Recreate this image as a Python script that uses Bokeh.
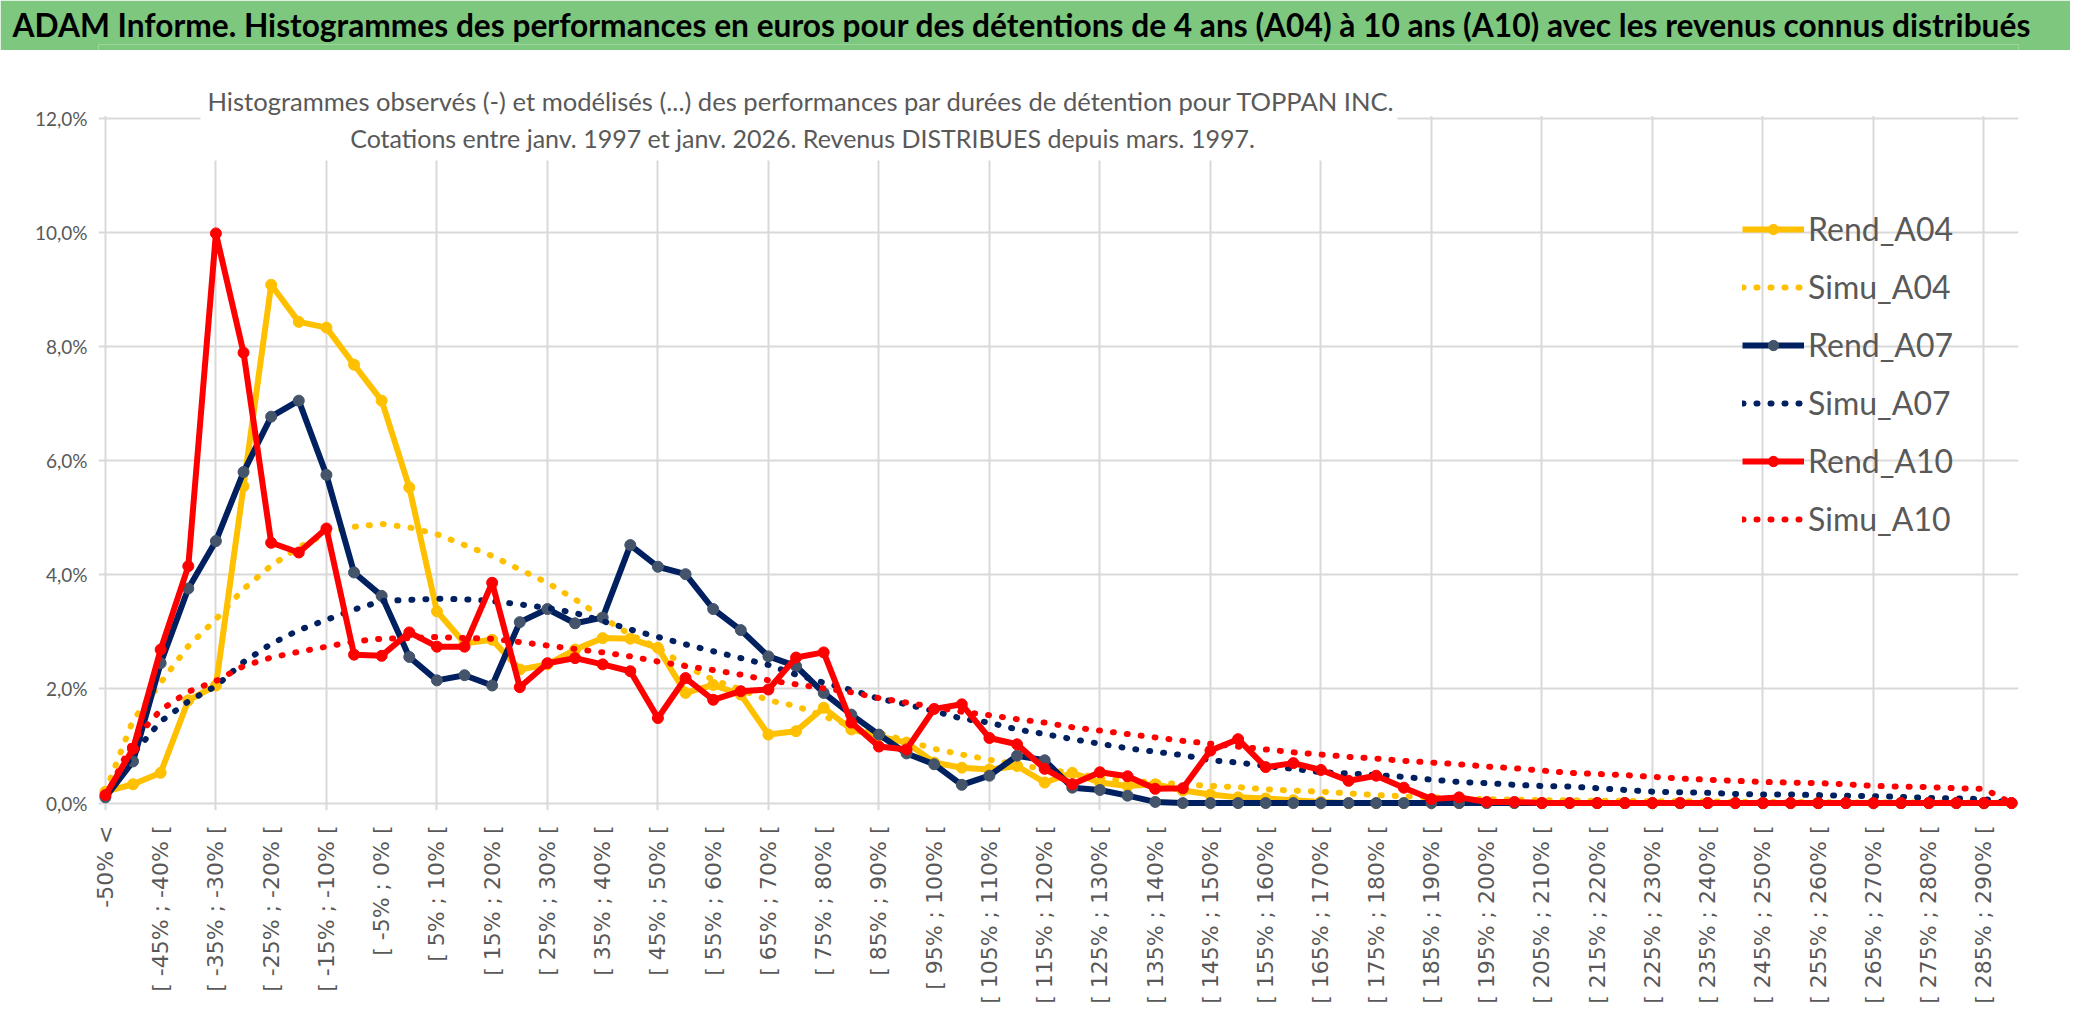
import math
from bokeh.plotting import figure
from bokeh.models import FixedTicker, Label, Legend, LegendItem, Range1d, BoxAnnotation, Title
from bokeh.layouts import column
from bokeh.embed import file_html
from bokeh.resources import INLINE

# ---------------- data ----------------
categories = [
    "-50% <",
    "[ -50% ; -45% [", "[ -45% ; -40% [", "[ -40% ; -35% [", "[ -35% ; -30% [", "[ -30% ; -25% [",
    "[ -25% ; -20% [", "[ -20% ; -15% [", "[ -15% ; -10% [", "[ -10% ; -5% [", "[ -5% ; 0% [",
    "[ 0% ; 5% [", "[ 5% ; 10% [", "[ 10% ; 15% [", "[ 15% ; 20% [", "[ 20% ; 25% [",
    "[ 25% ; 30% [", "[ 30% ; 35% [", "[ 35% ; 40% [", "[ 40% ; 45% [", "[ 45% ; 50% [",
    "[ 50% ; 55% [", "[ 55% ; 60% [", "[ 60% ; 65% [", "[ 65% ; 70% [", "[ 70% ; 75% [",
    "[ 75% ; 80% [", "[ 80% ; 85% [", "[ 85% ; 90% [", "[ 90% ; 95% [", "[ 95% ; 100% [",
    "[ 100% ; 105% [", "[ 105% ; 110% [", "[ 110% ; 115% [", "[ 115% ; 120% [", "[ 120% ; 125% [",
    "[ 125% ; 130% [", "[ 130% ; 135% [", "[ 135% ; 140% [", "[ 140% ; 145% [", "[ 145% ; 150% [",
    "[ 150% ; 155% [", "[ 155% ; 160% [", "[ 160% ; 165% [", "[ 165% ; 170% [", "[ 170% ; 175% [",
    "[ 175% ; 180% [", "[ 180% ; 185% [", "[ 185% ; 190% [", "[ 190% ; 195% [", "[ 195% ; 200% [",
    "[ 200% ; 205% [", "[ 205% ; 210% [", "[ 210% ; 215% [", "[ 215% ; 220% [", "[ 220% ; 225% [",
    "[ 225% ; 230% [", "[ 230% ; 235% [", "[ 235% ; 240% [", "[ 240% ; 245% [", "[ 245% ; 250% [",
    "[ 250% ; 255% [", "[ 255% ; 260% [", "[ 260% ; 265% [", "[ 265% ; 270% [", "[ 270% ; 275% [",
    "[ 275% ; 280% [", "[ 280% ; 285% [", "[ 285% ; 290% [", "[ 290% ; 295% [",
]

# values in percent
rend_a04 = [0.20, 0.33, 0.53, 1.80, 2.06, 5.55, 9.08, 8.43, 8.33, 7.68,
            7.05, 5.53, 3.36, 2.80, 2.86, 2.34, 2.43, 2.69, 2.89, 2.88,
            2.72, 1.93, 2.07, 1.90, 1.20, 1.26, 1.67, 1.29, 1.17, 1.06,
            0.71, 0.62, 0.59, 0.65, 0.36, 0.53, 0.36, 0.30, 0.33, 0.22,
            0.15, 0.10, 0.08, 0.05, 0.02, 0.00, 0.00, 0.00, 0.00, 0.00,
            0.00, 0.00, 0.00, 0.00, 0.00, 0.00, 0.00, 0.00, 0.00, 0.00,
            0.00, 0.00, 0.00, 0.00, 0.00, 0.00, 0.00, 0.00, 0.00, 0.00]
simu_a04 = [0.20, 1.45, 2.11, 2.75, 3.22, 3.75, 4.16, 4.48, 4.72, 4.84,
            4.89, 4.83, 4.71, 4.52, 4.33, 4.09, 3.86, 3.57, 3.25, 2.95,
            2.72, 2.40, 2.16, 1.99, 1.80, 1.70, 1.52, 1.35, 1.23, 1.09,
            0.95, 0.85, 0.76, 0.68, 0.59, 0.53, 0.44, 0.39, 0.36, 0.33,
            0.30, 0.28, 0.24, 0.22, 0.20, 0.17, 0.14, 0.12, 0.10, 0.08,
            0.07, 0.06, 0.05, 0.05, 0.04, 0.04, 0.03, 0.03, 0.03, 0.02,
            0.02, 0.02, 0.02, 0.01, 0.01, 0.01, 0.01, 0.01, 0.01, 0.00]
rend_a07 = [0.10, 0.73, 2.45, 3.76, 4.59, 5.80, 6.77, 7.05, 5.75, 4.04,
            3.63, 2.56, 2.15, 2.24, 2.06, 3.17, 3.40, 3.15, 3.25, 4.52,
            4.14, 4.01, 3.40, 3.03, 2.57, 2.40, 1.93, 1.55, 1.20, 0.87,
            0.68, 0.32, 0.48, 0.83, 0.75, 0.27, 0.23, 0.13, 0.02, 0.00,
            0.00, 0.00, 0.00, 0.00, 0.00, 0.00, 0.00, 0.00, 0.00, 0.00,
            0.00, 0.00, 0.00, 0.00, 0.00, 0.00, 0.00, 0.00, 0.00, 0.00,
            0.00, 0.00, 0.00, 0.00, 0.00, 0.00, 0.00, 0.00, 0.00, 0.00]
simu_a07 = [0.10, 0.86, 1.43, 1.78, 2.05, 2.47, 2.79, 3.03, 3.21, 3.39,
            3.54, 3.56, 3.58, 3.57, 3.54, 3.48, 3.42, 3.33, 3.19, 3.04,
            2.91, 2.78, 2.66, 2.54, 2.42, 2.25, 2.11, 1.98, 1.83, 1.73,
            1.61, 1.48, 1.41, 1.29, 1.21, 1.12, 1.04, 0.96, 0.90, 0.84,
            0.75, 0.71, 0.65, 0.60, 0.54, 0.52, 0.49, 0.46, 0.41, 0.37,
            0.35, 0.32, 0.30, 0.29, 0.26, 0.23, 0.20, 0.19, 0.18, 0.16,
            0.15, 0.15, 0.14, 0.13, 0.12, 0.11, 0.09, 0.08, 0.07, 0.00]
rend_a10 = [0.14, 0.95, 2.69, 4.15, 9.98, 7.89, 4.56, 4.39, 4.81, 2.60,
            2.58, 2.99, 2.74, 2.74, 3.86, 2.03, 2.45, 2.54, 2.43, 2.31,
            1.49, 2.19, 1.81, 1.96, 1.99, 2.55, 2.64, 1.41, 0.99, 0.94,
            1.65, 1.73, 1.14, 1.03, 0.60, 0.33, 0.54, 0.47, 0.25, 0.26,
            0.92, 1.12, 0.63, 0.70, 0.58, 0.39, 0.48, 0.27, 0.07, 0.10,
            0.02, 0.02, 0.00, 0.00, 0.00, 0.00, 0.00, 0.00, 0.00, 0.00,
            0.00, 0.00, 0.00, 0.00, 0.00, 0.00, 0.00, 0.00, 0.00, 0.00]
simu_a10 = [0.10, 1.09, 1.63, 1.95, 2.14, 2.40, 2.55, 2.65, 2.74, 2.83,
            2.88, 2.89, 2.91, 2.89, 2.88, 2.82, 2.76, 2.70, 2.64, 2.57,
            2.48, 2.40, 2.33, 2.25, 2.15, 2.08, 2.01, 1.94, 1.84, 1.76,
            1.68, 1.60, 1.54, 1.47, 1.41, 1.33, 1.27, 1.21, 1.15, 1.09,
            1.04, 0.99, 0.94, 0.89, 0.85, 0.81, 0.78, 0.74, 0.71, 0.68,
            0.64, 0.61, 0.57, 0.53, 0.51, 0.49, 0.46, 0.43, 0.41, 0.39,
            0.37, 0.36, 0.35, 0.33, 0.30, 0.29, 0.28, 0.26, 0.25, 0.00]

y_ticks = [0, 2, 4, 6, 8, 10, 12]
y_tick_labels = ["0,0%", "2,0%", "4,0%", "6,0%", "8,0%", "10,0%", "12,0%"]

main_title = ("ADAM Informe. Histogrammes des performances en euros pour des détentions "
              "de 4 ans (A04) à 10 ans (A10) avec les revenus connus distribués")
sub_title_1 = ("Histogrammes observés (-) et modélisés (...) des performances "
               "par durées de détention pour TOPPAN INC.")
sub_title_2 = "Cotations entre janv. 1997 et janv. 2026. Revenus DISTRIBUES depuis mars. 1997."

YELLOW = "#FFC000"
NAVY = "#002060"
NAVY_MK = "#44546A"
RED = "#FF0000"
GRID = "#D9D9D9"
TXT = "#595959"
GREEN = "#7DC77E"
FONT = "Lato"

W, H = 2070, 1015
TITLE_H = 50
BL, FW = 98, 1920          # frame left / width (shared by both figures)
BR = W - BL - FW
BT, FH = 20, 740           # main frame top / height
BB = H - TITLE_H - BT - FH

# ---------------- title bar ----------------
t = figure(frame_width=FW, frame_height=6, min_border_left=BL, min_border_right=BR,
           min_border_top=TITLE_H - 6, min_border_bottom=0, x_range=(0, 1), y_range=(0, 1),
           x_axis_type=None, y_axis_type=None, output_backend="svg", toolbar_location=None,
           title=None)
t.grid.visible = False
t.background_fill_color = GREEN
t.border_fill_color = GREEN
t.outline_line_color = None
t.add_layout(Title(text=main_title, align="left", offset=12 - BL, standoff=1,
                   text_font=FONT, text_font_style="bold", text_font_size="31.7px",
                   text_color="black"), "above")

# ---------------- main chart ----------------
n = len(categories)
x = list(range(n))

p = figure(frame_width=FW, frame_height=FH,
           min_border_left=BL, min_border_right=BR, min_border_top=BT, min_border_bottom=BB,
           x_range=Range1d(-0.25, n - 1 + 0.25), y_range=Range1d(-0.13, 12.834),
           output_backend="svg", toolbar_location=None, title=None)
p.outline_line_color = None
p.background_fill_color = "white"
p.border_fill_color = "white"

p.xaxis.ticker = FixedTicker(ticks=list(range(0, n, 2)))
p.xaxis.major_label_overrides = {i: categories[i] for i in range(0, n, 2)}
p.xaxis.major_label_orientation = math.pi / 2
p.xaxis.major_label_text_font = "DejaVu Sans"
p.xaxis.major_label_text_font_size = "22px"
p.xaxis.major_label_text_color = TXT
p.xaxis.axis_line_color = None
p.xaxis.major_tick_line_color = None
p.xaxis.minor_tick_line_color = None
p.xaxis.major_tick_out = 0
p.xaxis.major_label_standoff = 15

p.yaxis.ticker = FixedTicker(ticks=y_ticks)
p.yaxis.major_label_overrides = dict(zip(y_ticks, y_tick_labels))
p.yaxis.major_label_text_font = FONT
p.yaxis.major_label_text_font_size = "19px"
p.yaxis.major_label_text_color = TXT
p.yaxis.axis_line_color = None
p.yaxis.major_tick_line_color = None
p.yaxis.minor_tick_line_color = None
p.yaxis.major_tick_out = 0
p.yaxis.major_label_standoff = 11

p.xgrid.ticker = FixedTicker(ticks=list(range(0, n, 4)))
p.ygrid.ticker = FixedTicker(ticks=y_ticks)
p.grid.grid_line_color = GRID
p.grid.grid_line_width = 2

LW = 6
DOT = "1 13"
MS = 11

r_a04 = p.line(x, rend_a04, line_color=YELLOW, line_width=LW, line_join="round")
m_a04 = p.scatter(x, rend_a04, size=MS, fill_color=YELLOW, line_color=YELLOW)
s_a04 = p.line(x, simu_a04, line_color=YELLOW, line_width=6, line_dash=DOT, line_cap="round")
r_a07 = p.line(x, rend_a07, line_color=NAVY, line_width=LW, line_join="round")
m_a07 = p.scatter(x, rend_a07, size=MS, fill_color=NAVY_MK, line_color=NAVY_MK)
s_a07 = p.line(x, simu_a07, line_color=NAVY, line_width=6, line_dash=DOT, line_cap="round")
r_a10 = p.line(x, rend_a10, line_color=RED, line_width=LW, line_join="round")
m_a10 = p.scatter(x, rend_a10, size=MS, fill_color=RED, line_color=RED)
s_a10 = p.line(x, simu_a10, line_color=RED, line_width=6, line_dash=DOT, line_cap="round")

# white area above the 12 % gridline (the plot area ends there)
p.add_layout(BoxAnnotation(bottom=12.035, fill_color="white", fill_alpha=1.0, line_color=None))
# white panel behind the chart title (hides gridlines as in the original)
p.add_layout(BoxAnnotation(left=102, right=1299, bottom=650,
                           left_units="screen", right_units="screen", bottom_units="screen",
                           fill_color="white", fill_alpha=1.0, line_color=None))
p.add_layout(Label(x=703, y=710, x_units="screen", y_units="screen", text=sub_title_1,
                   text_align="center", text_baseline="middle", text_font=FONT,
                   text_font_size="25.6px", text_color=TXT))
p.add_layout(Label(x=704, y=673, x_units="screen", y_units="screen", text=sub_title_2,
                   text_align="center", text_baseline="middle", text_font=FONT,
                   text_font_size="25px", text_color=TXT))

legend = Legend(items=[
    LegendItem(label="Rend_A04", renderers=[r_a04, m_a04]),
    LegendItem(label="Simu_A04", renderers=[s_a04]),
    LegendItem(label="Rend_A07", renderers=[r_a07, m_a07]),
    LegendItem(label="Simu_A07", renderers=[s_a07]),
    LegendItem(label="Rend_A10", renderers=[r_a10, m_a10]),
    LegendItem(label="Simu_A10", renderers=[s_a10]),
], location=(1644, 272), orientation="vertical",
    border_line_color=None, background_fill_alpha=0, padding=0, margin=0,
    spacing=19, glyph_width=62, glyph_height=26, label_height=26, label_standoff=4,
    label_text_font=FONT, label_text_font_size="32px", label_text_color=TXT)
p.add_layout(legend)

layout = column(t, p, spacing=0)
open("out.html", "w").write(file_html(layout, INLINE))
